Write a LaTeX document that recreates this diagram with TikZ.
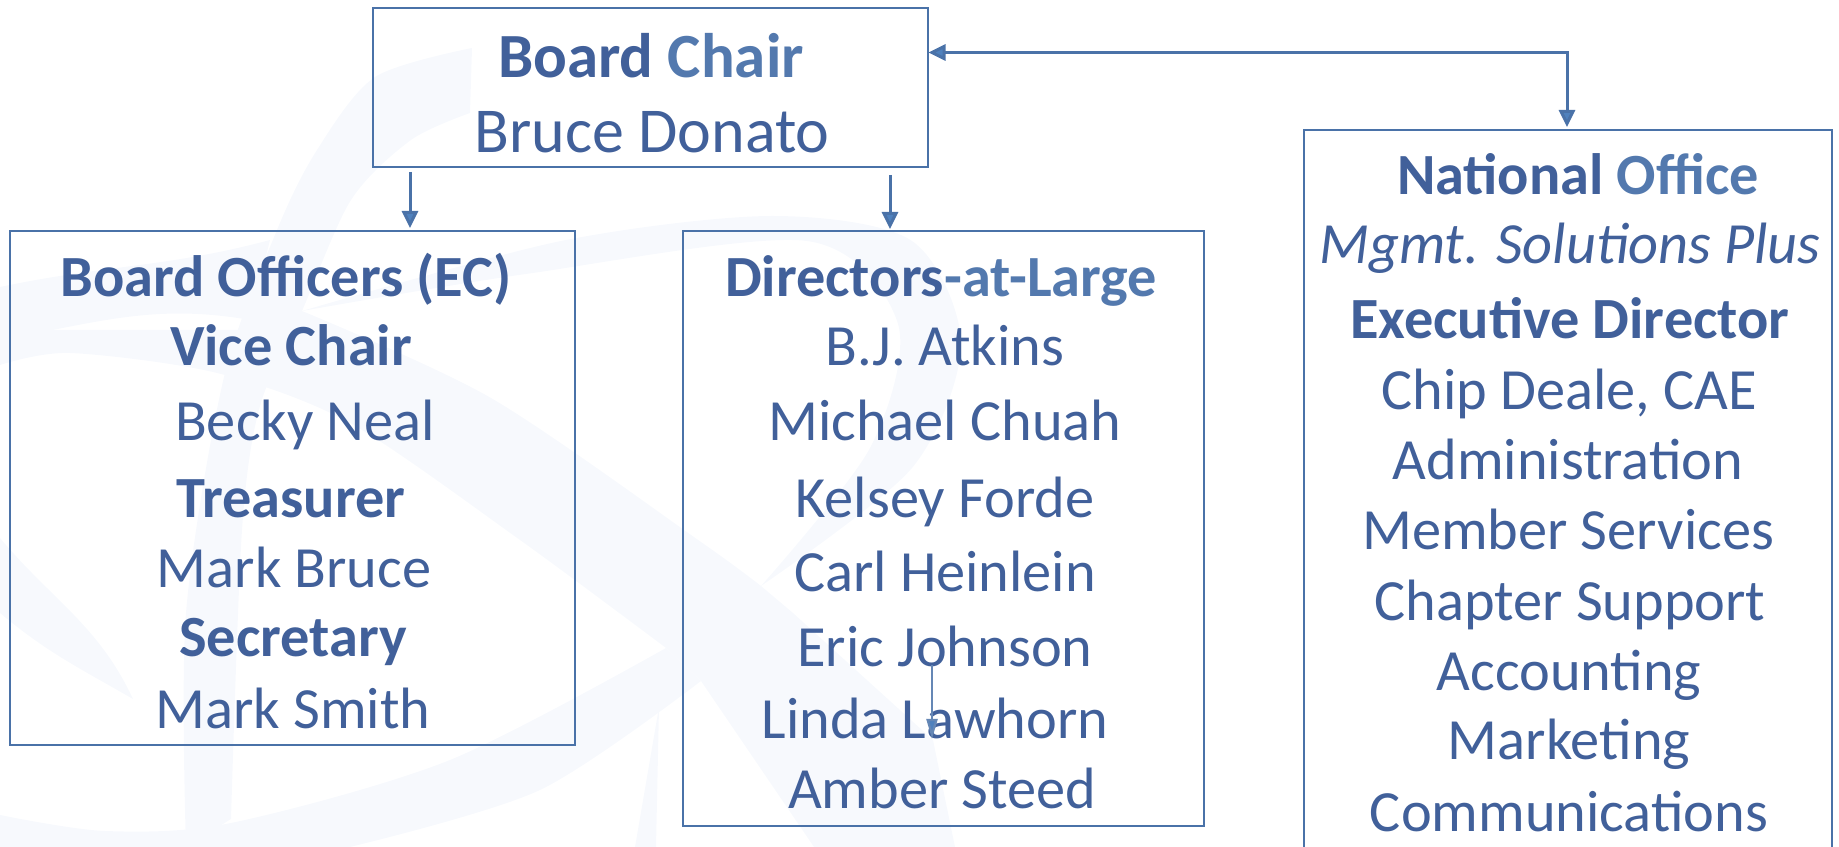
\documentclass[tikz,border=0pt]{standalone}
\usepackage{fontspec}
\setmainfont{Carlito}
\usetikzlibrary{arrows.meta}
\definecolor{inkdark}{HTML}{41609A}
\definecolor{inklight}{HTML}{5379AE}
\definecolor{linkblue}{HTML}{4A72A8}
\definecolor{headblue}{HTML}{4F81BD}
\definecolor{swoosh}{HTML}{F7F9FD}
\tikzset{
  boxnode/.style={shape=rectangle, draw=linkblue, line width=0.02cm, inner sep=0pt},
  txt/.style={anchor=base, inner sep=0pt, yshift=-0.015cm, text=inkdark, font=\fontsize{16.6}{20}\selectfont},
  hdr/.style={txt, font=\fontsize{16.6}{20}\selectfont\bfseries},
  chairtxt/.style={txt, font=\fontsize{18.2}{20}\selectfont},
  chairhdr/.style={txt, font=\fontsize{17.9}{20}\selectfont\bfseries},
  link/.style={draw=linkblue, line width=0.03cm, -{Triangle[length=0.17cm, width=0.16cm, fill=headblue]}},
  thinlink/.style={draw=linkblue!85!white, line width=0.022cm, -{Triangle[length=0.2cm, width=0.11cm, fill=headblue]}}
}
\begin{document}
\begin{tikzpicture}
\clip (0,0) rectangle (18.39,-8.47);

\fill[swoosh] plot[smooth] coordinates {(4.72,-0.48) (3.75,-0.77) (3.17,-1.50) (2.77,-2.30) (2.24,-3.77) (1.86,-6.13) (1.86,-8.47)}
  -- plot[smooth] coordinates {(2.31,-8.19) (2.42,-5.30) (2.60,-4.06) (3.02,-3.11) (3.51,-2.00) (4.11,-1.40) (4.70,-1.13)} -- cycle;
\fill[swoosh] (0,-2.87) to[out=12, in=195] (2.70,-2.40) -- (2.50,-3.20) to[out=170, in=10] (0,-3.40) -- cycle;
\fill[swoosh] plot[smooth] coordinates {(0,-3.65) (0.70,-3.53) (2.17,-3.73) (3.50,-4.23) (5.20,-5.40) (6.66,-6.48)}
  -- (7.01,-6.81) -- (8.14,-8.47) -- (9.55,-8.47) -- (9.33,-7.40) -- (7.93,-6.13) -- plot[smooth] coordinates {(7.61,-5.86) (7.01,-5.42) (4.91,-3.98) (3.02,-3.11)}
  -- (2.60,-3.30) -- (0,-3.30) -- cycle;
\fill[swoosh] plot[smooth] coordinates {(3.02,-3.11) (5.61,-2.41) (7.72,-2.16) (9.12,-2.41) (9.61,-3.44) (9.12,-4.68) (7.61,-5.86)}
  -- plot[smooth] coordinates {(7.61,-5.86) (8.70,-4.48) (8.98,-3.24) (8.07,-2.41) (5.26,-2.74) (3.02,-3.11)} -- cycle;
\fill[swoosh] plot[smooth] coordinates {(0,-8.15) (1.05,-8.31) (2.31,-8.23) (4.50,-7.60) (6.66,-6.48)}
  -- (7.01,-6.81) -- plot[smooth] coordinates {(7.01,-6.81) (5.40,-7.90) (3.50,-8.47)} -- (0,-8.47) -- cycle;
\fill[swoosh] (0,-5.38) to[out=-50, in=115] (1.33,-6.99) to[out=150, in=-40] (0,-6.13) -- cycle;
\fill[swoosh] (6.59,-7.07) -- (6.35,-8.47) -- (6.56,-8.47) -- cycle;

\node[boxnode, minimum width=5.545cm, minimum height=1.595cm] (Chair) at (6.5025,-0.8775) {};
\node[boxnode, minimum width=5.65cm, minimum height=5.14cm] (Officers) at (2.925,-4.88) {};
\node[boxnode, minimum width=5.21cm, minimum height=5.95cm] (Directors) at (9.43,-5.285) {};
\node[boxnode, minimum width=5.28cm, minimum height=8.00cm] (Office) at (15.675,-5.30) {};

\node[chairhdr] (C1) at (6.51,-0.76) {Board \textcolor{inklight}{Chair}};
\node[chairtxt] (C2) at (6.52,-1.51) {Bruce Donato};

\node[hdr] (B1) at (2.86,-2.95) {Board Officers (EC)};
\node[hdr] (B2) at (2.91,-3.64) {Vice Chair};
\node[txt] (B3) at (3.05,-4.39) {Becky Neal};
\node[hdr] (B4) at (2.91,-5.16) {Treasurer};
\node[txt] (B5) at (2.94,-5.86) {Mark Bruce};
\node[hdr] (B6) at (2.93,-6.55) {Secretary};
\node[txt] (B7) at (2.93,-7.27) {Mark Smith};

\node[hdr] (D1) at (9.41,-2.95) {Directors\textcolor{inklight}{-at-Large}};
\node[txt] (D2) at (9.45,-3.64) {B.J. Atkins};
\node[txt] (D3) at (9.45,-4.39) {Michael Chuah};
\node[txt] (D4) at (9.45,-5.16) {Kelsey Forde};
\node[txt] (D5) at (9.45,-5.90) {Carl Heinlein};
\node[txt] (D6) at (9.45,-6.65) {Eric Johnson};
\node[txt] (D7) at (9.35,-7.37) {Linda Lawhorn};
\node[txt] (D8) at (9.42,-8.07) {Amber Steed};

\node[hdr] (O1) at (15.78,-1.93) {National \textcolor{inklight}{Office}};
\node[txt] (O2) at (15.70,-2.62) {\itshape Mgmt. Solutions Plus};
\node[hdr] (O3) at (15.70,-3.37) {Executive Director};
\node[txt] (O4) at (15.69,-4.08) {Chip Deale, CAE};
\node[txt] (O5) at (15.68,-4.78) {Administration};
\node[txt] (O6) at (15.68,-5.48) {Member Services};
\node[txt] (O7) at (15.70,-6.19) {Chapter Support};
\node[txt] (O8) at (15.69,-6.89) {Accounting};
\node[txt] (O9) at (15.69,-7.58) {Marketing};
\node[txt] (O10) at (15.69,-8.30) {Communications};

\coordinate (L1) at (4.10,-1.72);
\coordinate (L2) at (8.90,-1.75);
\coordinate (L3) at (15.67,-0.525);
\coordinate (L4) at (9.32,-6.65);
\coordinate (L5) at (9.32,-7.39);

\draw[link, shorten >=0.02cm] (L1) -- (L1 |- Officers.north);
\draw[link, shorten >=0.01cm] (L2) -- (L2 |- Directors.north);
\draw[link, {Triangle[length=0.17cm, width=0.16cm, fill=headblue]}-{Triangle[length=0.17cm, width=0.16cm, fill=headblue]}, shorten >=0.02cm] (L3 -| Chair.east) -- (L3) -- (L3 |- Office.north);
\draw[thinlink] (L4) -- (L5);
\end{tikzpicture}
\end{document}
